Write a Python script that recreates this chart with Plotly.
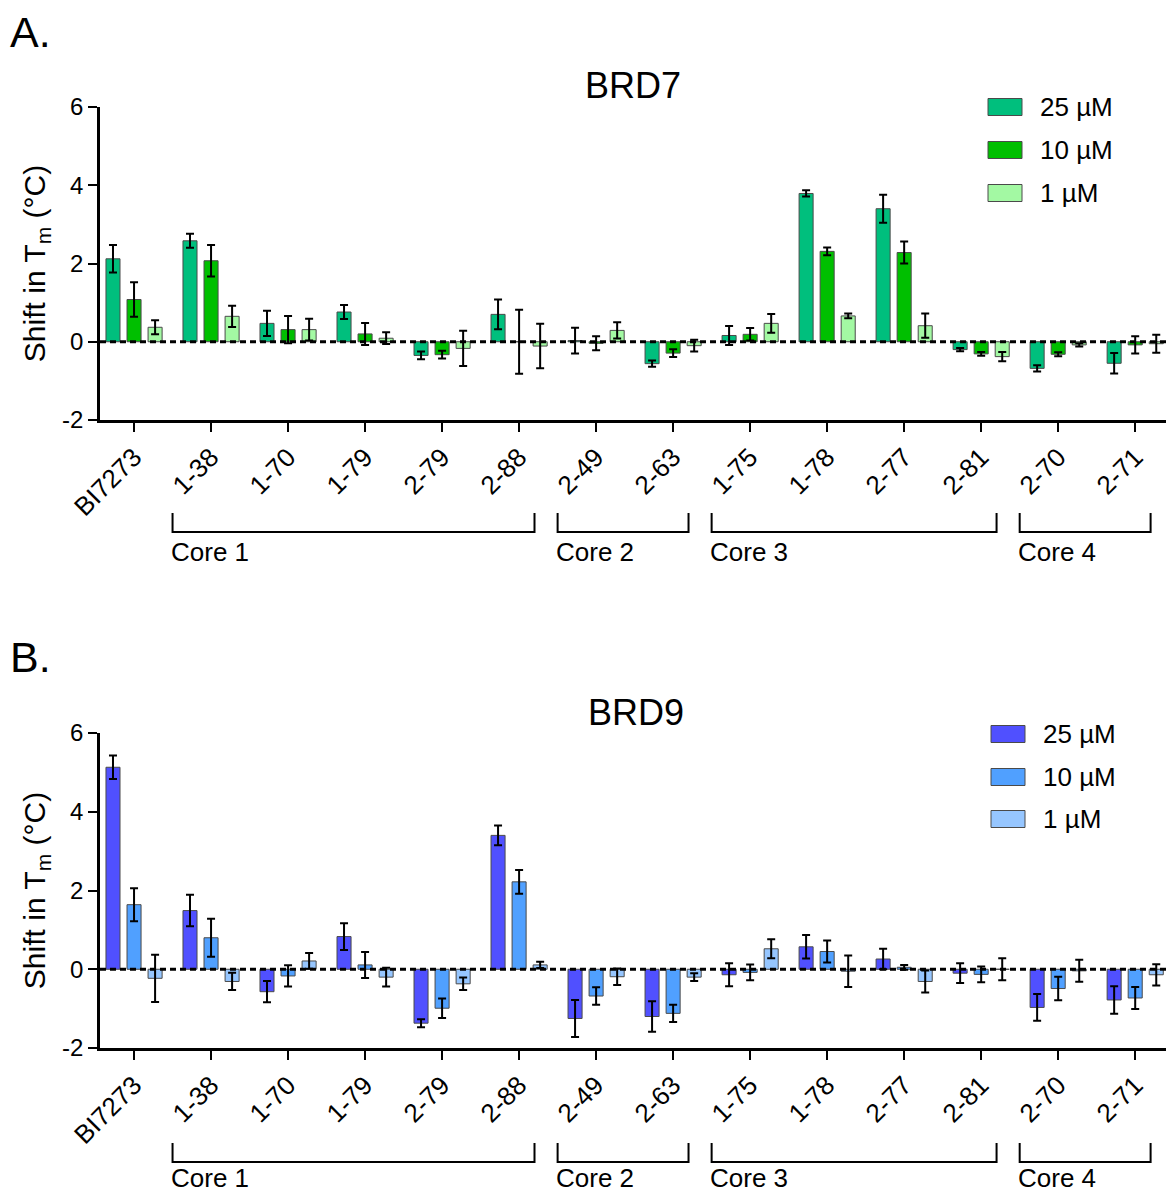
import plotly.graph_objects as go

# ---------------- data ----------------
categories = ["BI7273", "1-38", "1-70", "1-79", "2-79", "2-88", "2-49", "2-63",
              "1-75", "1-78", "2-77", "2-81", "2-70", "2-71"]
concentrations = ["25 µM", "10 µM", "1 µM"]

brd7_25 = [2.12, 2.58, 0.47, 0.76, -0.35, 0.70, 0.03, -0.56, 0.16, 3.79, 3.40, -0.20, -0.68, -0.55]
brd7_25_sd = [0.35, 0.18, 0.32, 0.18, 0.10, 0.38, 0.33, 0.08, 0.24, 0.08, 0.36, 0.04, 0.08, 0.26]
brd7_10 = [1.08, 2.07, 0.31, 0.20, -0.33, 0.00, -0.04, -0.29, 0.19, 2.31, 2.28, -0.31, -0.32, -0.08]
brd7_10_sd = [0.44, 0.40, 0.35, 0.28, 0.10, 0.82, 0.18, 0.10, 0.16, 0.10, 0.28, 0.05, 0.05, 0.22]
brd7_1 = [0.37, 0.65, 0.31, 0.09, -0.17, -0.11, 0.29, -0.10, 0.47, 0.66, 0.41, -0.38, -0.08, -0.05]
brd7_1_sd = [0.18, 0.27, 0.28, 0.15, 0.45, 0.57, 0.21, 0.15, 0.24, 0.06, 0.31, 0.12, 0.04, 0.23]

brd9_25 = [5.13, 1.49, -0.57, 0.83, -1.37, 3.40, -1.25, -1.20, -0.14, 0.57, 0.26, -0.10, -0.97, -0.78]
brd9_25_sd = [0.30, 0.40, 0.27, 0.34, 0.10, 0.25, 0.47, 0.39, 0.29, 0.30, 0.26, 0.25, 0.34, 0.35]
brd9_10 = [1.64, 0.80, -0.17, 0.11, -0.99, 2.22, -0.68, -1.12, -0.08, 0.45, 0.05, -0.13, -0.49, -0.73]
brd9_10_sd = [0.42, 0.48, 0.27, 0.33, 0.25, 0.30, 0.22, 0.22, 0.20, 0.28, 0.06, 0.20, 0.30, 0.28]
brd9_1 = [-0.23, -0.31, 0.21, -0.20, -0.37, 0.11, -0.19, -0.20, 0.52, -0.05, -0.31, 0.00, -0.04, -0.14]
brd9_1_sd = [0.60, 0.22, 0.20, 0.24, 0.16, 0.08, 0.21, 0.10, 0.24, 0.40, 0.28, 0.28, 0.28, 0.27]

core_labels = ["Core 1", "Core 2", "Core 3", "Core 4"]
core_first = ["1-38", "2-49", "1-75", "2-70"]
core_last = ["2-88", "2-63", "2-81", "2-71"]

y_ticks = [-2, 0, 2, 4, 6]

brd7_colors = ["#00BF7D", "#00BF00", "#A3F9A3"]
brd9_colors = ["#5050FF", "#50A0FF", "#96C6FF"]

# ---------------- layout helpers ----------------
W, H = 1166, 1196
L_M = 100
FONT = "Liberation Sans, Arial, sans-serif"


def px(p):
    return (p - L_M) / (W - L_M)


def py(p):
    return 1 - p / H


fig = go.Figure()

panels = [
    dict(name="BRD7", means=[brd7_25, brd7_10, brd7_1], sds=[brd7_25_sd, brd7_10_sd, brd7_1_sd],
         colors=brd7_colors, xa="x", ya="y", letter="A.", letter_y=32,
         title_y=85, title_x=633, leg_y=[107, 150, 193], leg_x=988,
         br_top=513, br_bot=532, core_y=552),
    dict(name="BRD9", means=[brd9_25, brd9_10, brd9_1], sds=[brd9_25_sd, brd9_10_sd, brd9_1_sd],
         colors=brd9_colors, xa="x2", ya="y2", letter="B.", letter_y=657,
         title_y=712, title_x=636, leg_y=[734, 777, 819], leg_x=991,
         br_top=1143, br_bot=1162, core_y=1178),
]

shapes = []
annotations = []
idx = {c: i for i, c in enumerate(categories)}

for p in panels:
    for k in range(3):
        fig.add_trace(go.Bar(
            x=categories, y=p["means"][k], name=concentrations[k],
            xaxis=p["xa"], yaxis=p["ya"], showlegend=False,
            marker=dict(color=p["colors"][k], line=dict(color="#4a4a4a", width=1)),
            error_y=dict(type="data", array=p["sds"][k], visible=True,
                         color="black", thickness=2, width=4),
            offsetgroup=str(k),
        ))
    # dashed zero line
    shapes.append(dict(type="line", xref=p["xa"] + " domain", yref=p["ya"],
                       x0=0, x1=1, y0=0, y1=0, layer="above",
                       line=dict(color="black", width=3, dash="6px,4px")))
    # panel letter + title
    annotations.append(dict(text=p["letter"], x=px(8), xref="paper", xanchor="left",
                            y=py(p["letter_y"]), yref="paper", yanchor="middle",
                            showarrow=False, font=dict(size=43, color="black", family=FONT)))
    annotations.append(dict(text=p["name"], x=px(p["title_x"]), xref="paper", xanchor="center",
                            y=py(p["title_y"]), yref="paper", yanchor="middle",
                            showarrow=False, font=dict(size=36, color="black", family=FONT)))
    # legend (custom swatches)
    for k in range(3):
        yc = p["leg_y"][k]
        shapes.append(dict(type="rect", xref="paper", yref="paper",
                           x0=px(p["leg_x"]), x1=px(p["leg_x"] + 34),
                           y0=py(yc + 8.5), y1=py(yc - 8.5),
                           fillcolor=p["colors"][k], line=dict(color="#4a4a4a", width=1)))
        annotations.append(dict(text=concentrations[k], x=px(p["leg_x"] + 50), xref="paper",
                                xanchor="left", y=py(yc), yref="paper", yanchor="middle",
                                showarrow=False, font=dict(size=26, color="black", family=FONT)))
    # core brackets
    for lab, a, b in zip(core_labels, core_first, core_last):
        x0 = idx[a] - 0.5
        x1 = idx[b] + 0.2
        yt, yb = py(p["br_top"]), py(p["br_bot"])
        shapes.append(dict(type="path", xref=p["xa"], yref="paper",
                           path=f"M {x0},{yt} L {x0},{yb} L {x1},{yb} L {x1},{yt}",
                           line=dict(color="black", width=2)))
        annotations.append(dict(text=lab, x=x0, xref=p["xa"], xanchor="left",
                                xshift=-3, y=py(p["core_y"]), yref="paper", yanchor="middle",
                                showarrow=False, borderpad=0,
                                font=dict(size=26, color="black", family=FONT)))

x_range = [-0.442, 13.40]


def xaxis_cfg(anchor):
    return dict(domain=[0, 1], anchor=anchor, range=x_range, showline=True, linecolor="black",
                linewidth=2.5, ticks="outside", ticklen=9, tickwidth=2, tickcolor="black",
                tickangle=-45, tickfont=dict(size=26, color="black", family=FONT),
                showgrid=False, zeroline=False, type="category", automargin=False)


def yaxis_cfg(anchor, dom):
    return dict(domain=dom, anchor=anchor, range=[-2, 6], tickvals=y_ticks,
                ticktext=[str(t) for t in y_ticks], showline=True, linecolor="black",
                linewidth=2.5, ticks="outside", ticklen=9, tickwidth=2, tickcolor="black",
                tickfont=dict(size=24, color="black", family=FONT), showgrid=False,
                zeroline=False, automargin=False,
                title=dict(text="Shift in T<sub>m</sub> (°C)", standoff=8,
                           font=dict(size=30, color="black", family=FONT)))


fig.update_layout(
    width=W, height=H, margin=dict(l=L_M, r=0, t=0, b=0, autoexpand=False),
    paper_bgcolor="white", plot_bgcolor="white",
    barmode="group", bargap=0.18, bargroupgap=0.333,
    font=dict(family=FONT, color="black"),
    xaxis=xaxis_cfg("y"), yaxis=yaxis_cfg("x", [py(420), py(107)]),
    xaxis2=xaxis_cfg("y2"), yaxis2=yaxis_cfg("x2", [py(1048), py(733)]),
    shapes=shapes, annotations=annotations, showlegend=False,
)

fig.write_html(
    "out.html",
    config={"displayModeBar": False},
    post_script="document.body.style.margin='0';document.body.style.overflow='hidden';",
)
